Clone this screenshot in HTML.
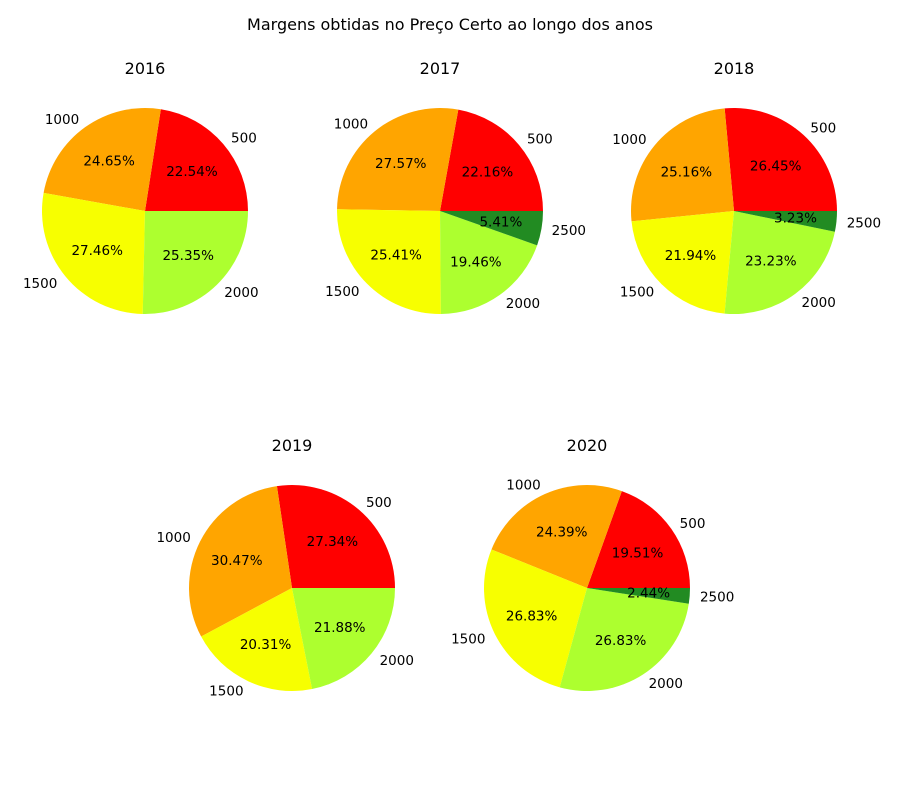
<!DOCTYPE html>
<html><head><meta charset="utf-8"><style>
body{margin:0;background:#fff}
svg text{font-family:"DejaVu Sans","Liberation Sans",sans-serif;fill:#000}
</style></head><body>
<svg id="chart" width="900" height="800" viewBox="0 0 900 800" xmlns="http://www.w3.org/2000/svg">
<rect width="900" height="800" fill="#fff"/>
<text x="450" y="30" font-size="16" text-anchor="middle">Margens obtidas no Preço Certo ao longo dos anos</text>
</svg>
<script>
const years = ["2016","2017","2018","2019","2020"];
const categories = ["500","1000","1500","2000","2500"];
const values2016 = [22.54,24.65,27.46,25.35];
const values2017 = [22.16,27.57,25.41,19.46,5.41];
const values2018 = [26.45,25.16,21.94,23.23,3.23];
const values2019 = [27.34,30.47,20.31,21.88];
const values2020 = [19.51,24.39,26.83,26.83,2.44];
const allValues = [values2016,values2017,values2018,values2019,values2020];
const colors = ["#ff0000","#ffa500","#f7ff00","#adff2f","#228b22"];
const centers = [[145,211],[440,211],[734,211],[292,588],[587,588]];
const R = 103;
const NS = "http://www.w3.org/2000/svg";
const svg = document.getElementById('chart');
function mk(tag, attrs){const e=document.createElementNS(NS,tag);for(const k in attrs)e.setAttribute(k,attrs[k]);return e;}
allValues.forEach((vals,pi)=>{
  const [cx,cy]=centers[pi];
  const g=mk('g',{});
  
  
  svg.appendChild(g);
  const t=mk('text',{x:cx,y:cy-137,'font-size':16,'text-anchor':'middle'});
  
  
  t.textContent=years[pi];g.appendChild(t);
  const total=vals.reduce((a,b)=>a+b,0);
  let a0=0;
  vals.forEach((v,i)=>{
    const a1=a0+v/total*2*Math.PI;
    const x0=cx+R*Math.cos(a0),y0=cy-R*Math.sin(a0);
    const x1=cx+R*Math.cos(a1),y1=cy-R*Math.sin(a1);
    const large=(a1-a0)>Math.PI?1:0;
    const p=mk('path',{d:`M${cx},${cy} L${x0},${y0} A${R},${R} 0 ${large} 0 ${x1},${y1} Z`,fill:colors[i]});
    
    
    g.appendChild(p);
    const am=(a0+a1)/2;
    const pt=mk('text',{x:cx+0.6*R*Math.cos(am),y:cy-0.6*R*Math.sin(am)+5,'font-size':13.5,'text-anchor':'middle'});
    
    
    pt.textContent=v.toFixed(2)+'%';g.appendChild(pt);
    const c=Math.cos(am);
    const lt=mk('text',{x:cx+1.1*R*c,y:cy-1.1*R*Math.sin(am)+5,'font-size':13.5,'text-anchor':c>=0?'start':'end'});
    
    
    lt.textContent=categories[i];g.appendChild(lt);
    a0=a1;
  });
});
</script>
</body></html>
